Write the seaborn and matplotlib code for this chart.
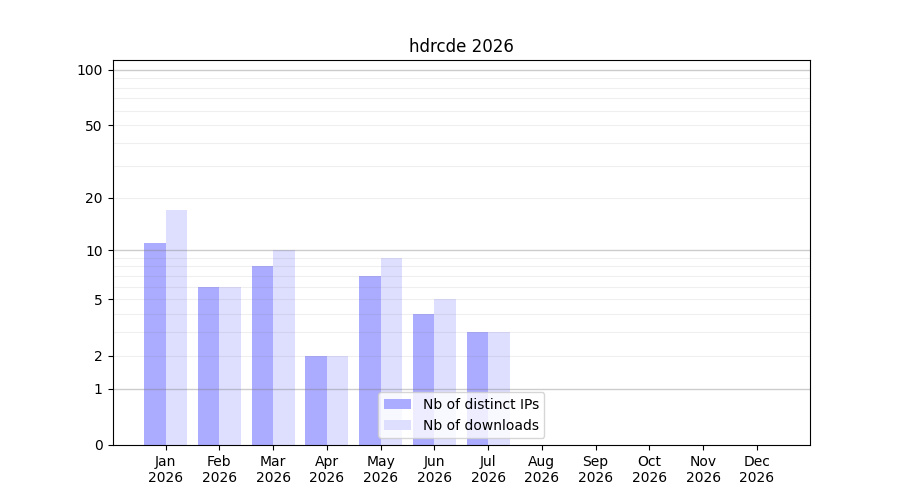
import numpy as np
import pandas as pd
import matplotlib
matplotlib.use("Agg")
import matplotlib.pyplot as plt
import seaborn as sns

# data
months = ["Jan", "Feb", "Mar", "Apr", "May", "Jun",
          "Jul", "Aug", "Sep", "Oct", "Nov", "Dec"]
year = "2026"
distinct_ips = [11, 6, 8, 2, 7, 4, 3, 0, 0, 0, 0, 0]
downloads = [17, 6, 10, 2, 9, 5, 3, 0, 0, 0, 0, 0]
series_names = ["Nb of distinct IPs", "Nb of downloads"]
y_ticks = [0, 1, 2, 5, 10, 20, 50, 100]
major_grid = [1, 10, 100]
minor_grid = [2, 3, 4, 5, 6, 7, 8, 9, 20, 30, 40, 50, 60, 70, 80, 90]


def fwd(y):
    return np.log10(1 + np.clip(y, 0, None))


def inv(y):
    return 10 ** y - 1


def plot_downloads(pic_path):
    labels = [f"{m}\n{year}" for m in months]
    df = pd.DataFrame({
        "month": labels * 2,
        "value": distinct_ips + downloads,
        "kind": np.repeat(series_names, len(months)),
    })

    fig, ax = plt.subplots(figsize=(9, 5), dpi=100)
    sns.barplot(data=df, x="month", y="value", hue="kind",
                palette=["#ababff", "#dedeff"], saturation=1,
                width=0.8, linewidth=0, ax=ax)

    ax.set_yscale("function", functions=(fwd, inv))
    ax.set_ylim(0, 113)
    ax.set_xlim(-0.99, len(months) - 0.01)
    ax.set_yticks(y_ticks)
    ax.set_yticklabels([str(t) for t in y_ticks])
    ax.set_yticks(minor_grid, minor=True)
    ax.tick_params(axis="y", which="minor", length=0)
    # light grid, drawn above the bars but under the spines
    for g in minor_grid:
        ax.axhline(g, color="gray", alpha=0.12, lw=0.8, zorder=2)
    for g in major_grid:
        ax.axhline(g, color="gray", alpha=0.4, lw=1, zorder=2)

    ax.set_xlabel("")
    ax.set_ylabel("")
    ax.set_title(f"hdrcde {year}")
    ax.legend(loc="lower center")
    plt.savefig(pic_path)


if __name__ == "__main__":
    plot_downloads("out.png")
